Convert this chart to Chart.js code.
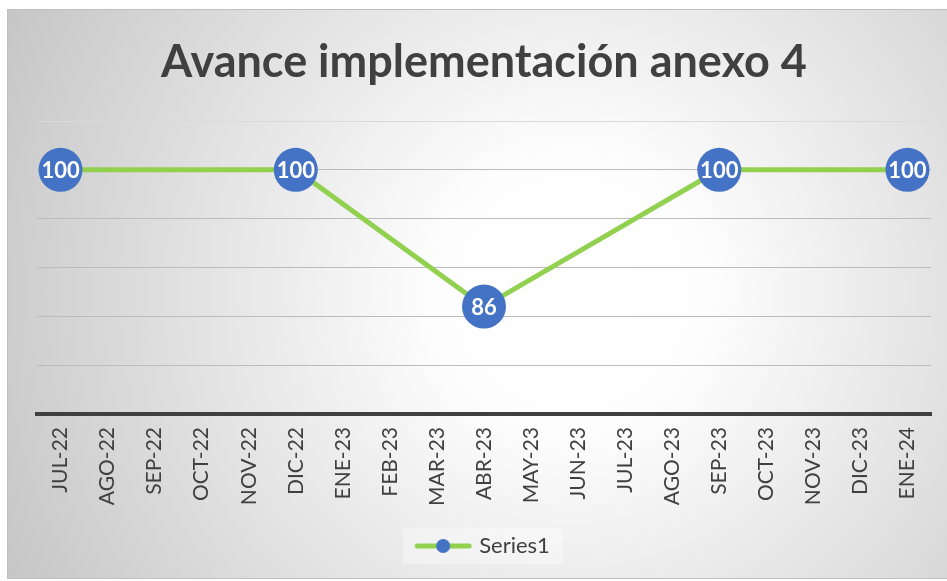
<!DOCTYPE html>
<html>
<head>
<meta charset="utf-8">
<script src="https://cdn.jsdelivr.net/npm/chart.js@4.4.1/dist/chart.umd.min.js"></script>
<style>
  html, body { margin: 0; padding: 0; background: #ffffff; overflow: hidden; }
  .card {
    position: absolute; left: 7px; top: 9px; width: 940px; height: 570px;
    box-sizing: border-box; border: 1px solid #bfbfbf; border-right: none;
    background: radial-gradient(circle farthest-corner at 60% 50%, #ffffff 0%, #fdfdfd 22%, #c6c6c6 100%);
  }
  #wrap { position: absolute; left: 0; top: 0; width: 947px; height: 581px; }
</style>
</head>
<body>
<div class="card"></div>
<div id="wrap"><canvas id="chart"></canvas></div>
<script>
// categories and values
let months = ["JUL-22", "AGO-22", "SEP-22", "OCT-22", "NOV-22", "DIC-22", "ENE-23", "FEB-23", "MAR-23",
  "ABR-23", "MAY-23", "JUN-23", "JUL-23", "AGO-23", "SEP-23", "OCT-23", "NOV-23", "DIC-23", "ENE-24"];
let avance = [100, null, null, null, null, 100, null, null, null,
  86, null, null, null, null, 100, null, null, null, 100];
let titleText = "Avance implementación anexo 4";
let seriesName = "Series1";

let green = "#92D050";
let blue = "#4472C4";
let dark = "#404040";
let font = "Lato";

// legend symbol: line with a dot in the middle
let sym = document.createElement("canvas");
sym.width = 58;
sym.height = 16;
let sctx = sym.getContext("2d");
sctx.strokeStyle = green;
sctx.lineWidth = 5;
sctx.lineCap = "round";
sctx.beginPath();
sctx.moveTo(3, 8);
sctx.lineTo(55, 8);
sctx.stroke();
sctx.fillStyle = blue;
sctx.beginPath();
sctx.arc(29, 8, 7, 0, Math.PI * 2);
sctx.fill();

let pointLabels = {
  id: "pointLabels",
  afterDatasetsDraw(chart) {
    let ctx = chart.ctx;
    let meta = chart.getDatasetMeta(0);
    ctx.save();
    ctx.fillStyle = "#ffffff";
    ctx.font = "bold 22px " + font;
    ctx.textAlign = "center";
    ctx.textBaseline = "middle";
    meta.data.forEach((pt, i) => {
      if (avance[i] == null) return;
      ctx.fillText(String(avance[i]), pt.x, pt.y + 1);
    });
    ctx.restore();
  }
};

let legendBack = {
  id: "legendBack",
  beforeDraw(chart) {
    let boxes = chart.legend.legendHitBoxes;
    if (!boxes || !boxes.length) return;
    let b = boxes[0];
    let ctx = chart.ctx;
    ctx.save();
    ctx.fillStyle = "rgba(255,255,255,0.35)";
    ctx.fillRect(403, b.top + b.height / 2 - 18, 160, 36);
    ctx.restore();
  }
};

new Chart(document.getElementById("chart"), {
  type: "line",
  data: {
    labels: months,
    datasets: [{
      label: seriesName,
      data: avance,
      spanGaps: true,
      borderColor: green,
      borderWidth: 5,
      pointRadius: 22,
      pointHoverRadius: 22,
      pointBackgroundColor: blue,
      pointBorderColor: blue,
      pointBorderWidth: 0,
      tension: 0,
      clip: false
    }]
  },
  options: {
    responsive: true,
    maintainAspectRatio: false,
    animation: false,
    layout: { autoPadding: false, padding: { left: 37, right: 16, top: 9, bottom: 14 } },
    plugins: {
      title: {
        display: true,
        text: titleText,
        color: dark,
        font: { family: font, size: 45, weight: "bold" },
        padding: { top: 26, bottom: 32 }
      },
      legend: {
        position: "bottom",
        labels: {
          usePointStyle: true,
          pointStyle: sym,
          pointStyleWidth: 50,
          color: dark,
          font: { family: font, size: 22 },
          padding: 10
        }
      },
      tooltip: { enabled: false }
    },
    scales: {
      x: {
        offset: true,
        grid: { display: false, drawTicks: false },
        border: { display: true, color: dark, width: 4 },
        ticks: {
          color: dark,
          font: { family: font, size: 21 },
          minRotation: 90,
          maxRotation: 90,
          autoSkip: false,
          padding: 13
        },
        afterFit(scale) {
          scale.height = 111;
          scale.paddingLeft = 0;
          scale.paddingRight = 0;
        }
      },
      y: {
        min: 75,
        max: 105,
        ticks: { display: false, stepSize: 5 },
        border: { display: false },
        grid: {
          drawTicks: false,
          lineWidth: 1,
          color: (c) => c.tick && c.tick.value === 105 ? "#dadada" : "#bcbcbc"
        },
        afterFit(scale) { scale.width = 0; }
      }
    }
  },
  plugins: [legendBack, pointLabels]
});
</script>
</body>
</html>
